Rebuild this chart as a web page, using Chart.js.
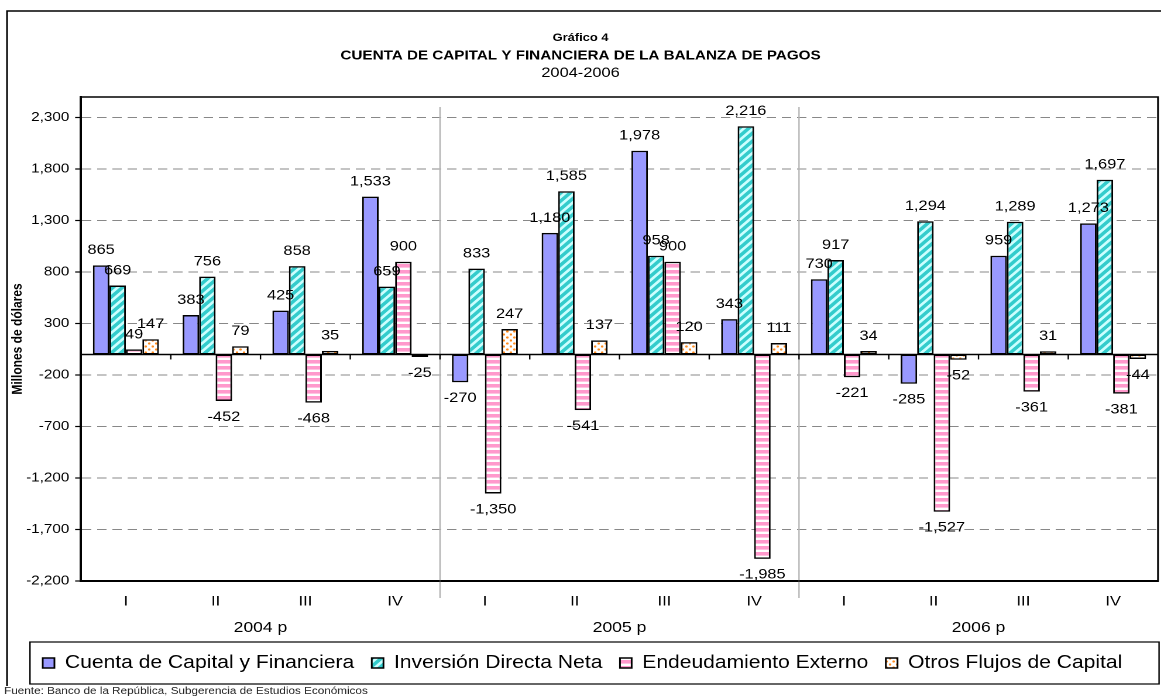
<!DOCTYPE html>
<html>
<head>
<meta charset="utf-8">
<script src="https://cdn.jsdelivr.net/npm/chart.js@4.4.1/dist/chart.umd.min.js"></script>
<style>
  body { margin: 0; background: #fff; overflow: hidden; }
  /* the original Excel picture is stretched sideways, so the canvas is too */
  #wrap { width: 992px; height: 698px; transform: scaleX(1.1704); transform-origin: 0 0; }
</style>
</head>
<body>
<div id="wrap"><canvas id="chart" width="992" height="698"></canvas></div>
<script>
const quarters = ['I', 'II', 'III', 'IV'];
const years = ['2004 p', '2005 p', '2006 p'];
const seriesNames = ['Cuenta de Capital y Financiera', 'Inversión Directa Neta', 'Endeudamiento Externo', 'Otros Flujos de Capital'];
const cuentaCapital = [865, 383, 425, 1533, -270, 1180, 1978, 343, 730, -285, 959, 1273];
const inversionDirecta = [669, 756, 858, 659, 833, 1585, 958, 2216, 917, 1294, 1289, 1697];
const endeudamiento = [49, -452, -468, 900, -1350, -541, 900, -1985, -221, -1527, -361, -381];
const otrosFlujos = [147, 79, 35, -25, 247, 137, 120, 111, 34, -52, 31, -44];
const yTicks = [-2200, -1700, -1200, -700, -200, 300, 800, 1300, 1800, 2300];
const yMin = -2200, yMax = 2500;

const FONT = 'Arial, "Liberation Sans", sans-serif';
Chart.defaults.font.family = FONT;
Chart.defaults.color = '#000';

// small tiles for the Excel style fills
function makePattern(w, h, draw) {
    const c = document.createElement('canvas');
    c.width = w * 2; c.height = h * 2;
    const g = c.getContext('2d');
    g.scale(2, 2);
    draw(g, w, h);
    const p = c.getContext('2d').createPattern(c, 'repeat');
    p.setTransform(new DOMMatrix().scale(0.5));
    return p;
}

const tealFill = makePattern(8, 8, (g, w, h) => {
    g.fillStyle = '#ccffff'; g.fillRect(0, 0, w, h);
    g.strokeStyle = '#33cccc'; g.lineWidth = 3.2;
    g.beginPath();
    g.moveTo(-4, 4); g.lineTo(4, -4);
    g.moveTo(0, h); g.lineTo(w, 0);
    g.moveTo(4, 12); g.lineTo(12, 4);
    g.stroke();
});
const pinkFill = makePattern(4, 6, (g, w, h) => {
    g.fillStyle = '#ffffff'; g.fillRect(0, 0, w, h);
    g.fillStyle = '#ff99cc'; g.fillRect(0, 0, w, 3.6);
});
const orangeFill = makePattern(6, 6, (g, w, h) => {
    g.fillStyle = '#ffffff'; g.fillRect(0, 0, w, h);
    g.fillStyle = '#ff8a1c';
    g.beginPath(); g.arc(1.5, 1.5, 1.1, 0, Math.PI * 2); g.fill();
    g.beginPath(); g.arc(4.5, 4.5, 1.1, 0, Math.PI * 2); g.fill();
});

const labels = [];
years.forEach(() => quarters.forEach(q => labels.push(q)));

function line(ctx, x1, y1, x2, y2) {
    ctx.beginPath(); ctx.moveTo(x1, y1); ctx.lineTo(x2, y2); ctx.stroke();
}

const decor = {
    id: 'decor',
    beforeDatasetsDraw(chart) {
        const {ctx, chartArea: a, scales: {x}} = chart;
        ctx.save();
        ctx.strokeStyle = '#b4b4b4';
        ctx.lineWidth = 1.2;
        for (let k = quarters.length; k < labels.length; k += quarters.length) {
            const xs = (x.getPixelForValue(k - 1) + x.getPixelForValue(k)) / 2;
            line(ctx, xs, a.top + 10, xs, a.bottom + 17);
        }
        ctx.restore();
    },
    afterDatasetsDraw(chart) {
        const {ctx, chartArea: a, scales: {x, y}} = chart;
        const y0 = y.getPixelForValue(0);
        ctx.save();
        // zero line with category tick marks
        ctx.strokeStyle = '#000';
        ctx.lineWidth = 1.5;
        line(ctx, a.left, y0, a.right, y0);
        ctx.lineWidth = 1.2;
        for (let k = 1; k < labels.length; k++) {
            const xs = (x.getPixelForValue(k - 1) + x.getPixelForValue(k)) / 2;
            line(ctx, xs, y0, xs, y0 + 5);
        }
        // data labels
        ctx.font = '14px ' + FONT;
        ctx.fillStyle = '#000';
        ctx.textAlign = 'center';
        ctx.textBaseline = 'middle';
        chart.data.datasets.forEach((ds, di) => {
            chart.getDatasetMeta(di).data.forEach((bar, i) => {
                const v = ds.data[i];
                const ty = v >= 0 ? bar.y - 15 : bar.y + 16;
                ctx.fillText(v.toLocaleString('en-US'), bar.x, ty);
            });
        });
        // plot frame
        ctx.lineWidth = 1.5;
        ctx.strokeRect(a.left, a.top, a.right - a.left, a.bottom - a.top);
        ctx.restore();
    },
    afterDraw(chart) {
        const {ctx, width} = chart;
        const lg = chart.legend;
        ctx.save();
        ctx.fillStyle = '#000';
        ctx.textAlign = 'center';
        ctx.textBaseline = 'middle';
        ctx.font = 'bold 11px ' + FONT;
        ctx.fillText('Gráfico 4', width / 2, 38);
        ctx.font = 'bold 13px ' + FONT;
        ctx.fillText('CUENTA DE CAPITAL Y FINANCIERA DE LA BALANZA DE PAGOS', width / 2, 56);
        ctx.font = '14px ' + FONT;
        ctx.fillText('2004-2006', width / 2, 73);
        // legend box
        ctx.strokeStyle = '#000';
        ctx.lineWidth = 1.2;
        ctx.strokeRect(25.6, lg.top + 3, width - 1.7 - 25.6, 42);
        // outer frame (left and top only, the rest runs off the picture)
        ctx.lineWidth = 1.5;
        ctx.beginPath();
        ctx.moveTo(6, 686); ctx.lineTo(6, 11); ctx.lineTo(width + 2, 11);
        ctx.stroke();
        // source
        ctx.textAlign = 'left';
        ctx.font = '10px ' + FONT;
        ctx.fillStyle = '#222';
        ctx.fillText('Fuente: Banco de la República, Subgerencia de Estudios Económicos', 3.5, 691);
        ctx.restore();
    }
};

const barStyle = {
    borderColor: '#000',
    borderWidth: 1.5,
    borderSkipped: false,
    barPercentage: 1,
    categoryPercentage: 0.735
};

new Chart(document.getElementById('chart'), {
    type: 'bar',
    data: {
        labels: labels,
        datasets: [
            {label: seriesNames[0], data: cuentaCapital, backgroundColor: '#9999ff', ...barStyle},
            {label: seriesNames[1], data: inversionDirecta, backgroundColor: tealFill, ...barStyle},
            {label: seriesNames[2], data: endeudamiento, backgroundColor: pinkFill, ...barStyle},
            {label: seriesNames[3], data: otrosFlujos, backgroundColor: orangeFill, ...barStyle}
        ]
    },
    options: {
        responsive: false,
        animation: false,
        devicePixelRatio: 2,
        layout: {padding: {top: 97, left: 6, right: 2.6, bottom: 16}},
        plugins: {
            legend: {
                position: 'bottom',
                labels: {
                    boxWidth: 10,
                    boxHeight: 10,
                    padding: 15,
                    font: {size: 18},
                    color: '#000'
                }
            },
            tooltip: {enabled: false}
        },
        scales: {
            x: {
                offset: true,
                weight: 0,
                grid: {display: false, drawTicks: false},
                border: {display: true, color: '#000', width: 2},
                ticks: {font: {size: 14}, padding: 12, autoSkip: false, maxRotation: 0},
                afterFit: s => { s.height = 31; }
            },
            x2: {
                type: 'category',
                position: 'bottom',
                labels: years,
                offset: true,
                weight: 1,
                grid: {display: false, drawTicks: false},
                border: {display: false},
                ticks: {font: {size: 15}, padding: 7},
                afterFit: s => { s.height = 27; }
            },
            y: {
                min: yMin,
                max: yMax,
                afterBuildTicks: s => { s.ticks = yTicks.map(v => ({value: v})); },
                ticks: {
                    font: {size: 13},
                    padding: 5,
                    callback: v => v.toLocaleString('en-US')
                },
                grid: {color: '#888', lineWidth: 1, tickColor: '#000', tickLength: 5, tickWidth: 1.2},
                border: {display: true, color: '#000', width: 2, dash: [8, 5]},
                title: {
                    display: true,
                    text: 'Millones de dólares',
                    font: {size: 12, weight: 'bold'},
                    padding: {top: 2, bottom: 0}
                },
                afterFit: s => { s.width = 63.2; }
            }
        }
    },
    plugins: [decor]
});
</script>
</body>
</html>
